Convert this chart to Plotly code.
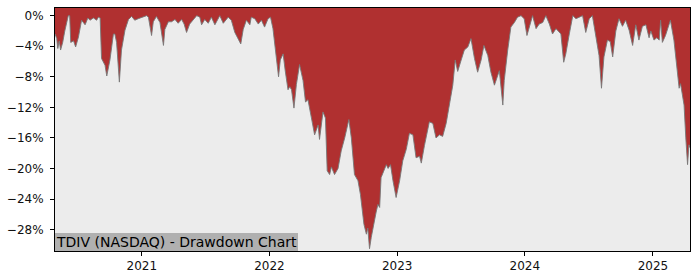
import plotly.graph_objects as go

dates = [
    "2020-04-28", "2020-05-03", "2020-05-06", "2020-05-10", "2020-05-14", "2020-05-20", "2020-05-26",
    "2020-06-01", "2020-06-05", "2020-06-09", "2020-06-12", "2020-06-20", "2020-06-26", "2020-07-04",
    "2020-07-13", "2020-07-23", "2020-07-31", "2020-08-06", "2020-08-16", "2020-08-25", "2020-08-30",
    "2020-09-04", "2020-09-08", "2020-09-18", "2020-09-23", "2020-10-02", "2020-10-12", "2020-10-16",
    "2020-10-21", "2020-10-29", "2020-11-04", "2020-11-14", "2020-11-24", "2020-12-03", "2020-12-12",
    "2020-12-22", "2021-01-01", "2021-01-15", "2021-01-20", "2021-01-29", "2021-02-03", "2021-02-12",
    "2021-02-22", "2021-03-04", "2021-03-08", "2021-03-18", "2021-03-27", "2021-04-06", "2021-04-15",
    "2021-04-25", "2021-05-02", "2021-05-09", "2021-05-18", "2021-05-28", "2021-06-07", "2021-06-16",
    "2021-06-21", "2021-06-30", "2021-07-10", "2021-07-19", "2021-07-29", "2021-08-12", "2021-08-22",
    "2021-09-05", "2021-09-14", "2021-09-24", "2021-10-05", "2021-10-11", "2021-10-18", "2021-10-27",
    "2021-11-06", "2021-11-10", "2021-11-20", "2021-11-30", "2021-12-09", "2021-12-18", "2021-12-28",
    "2022-01-04", "2022-01-11", "2022-01-21", "2022-01-27", "2022-02-01", "2022-02-09", "2022-02-15",
    "2022-02-23", "2022-02-28", "2022-03-05", "2022-03-12", "2022-03-19", "2022-03-28", "2022-04-07",
    "2022-04-14", "2022-04-21", "2022-05-01", "2022-05-10", "2022-05-20", "2022-05-24", "2022-06-03",
    "2022-06-10", "2022-06-15", "2022-06-22", "2022-06-27", "2022-07-06", "2022-07-16", "2022-07-25",
    "2022-08-04", "2022-08-16", "2022-08-23", "2022-09-01", "2022-09-11", "2022-09-18", "2022-09-28",
    "2022-10-05", "2022-10-09", "2022-10-14", "2022-10-19", "2022-10-24", "2022-11-02", "2022-11-07",
    "2022-11-12", "2022-11-16", "2022-11-24", "2022-12-01", "2022-12-06", "2022-12-13", "2022-12-20",
    "2022-12-29", "2023-01-08", "2023-01-17", "2023-01-27", "2023-02-05", "2023-02-15", "2023-02-24",
    "2023-03-06", "2023-03-11", "2023-03-20", "2023-03-30", "2023-04-03", "2023-04-13", "2023-04-22",
    "2023-05-02", "2023-05-11", "2023-05-21", "2023-05-30", "2023-06-09", "2023-06-16", "2023-06-23",
    "2023-07-03", "2023-07-12", "2023-07-22", "2023-07-31", "2023-08-10", "2023-08-19", "2023-08-29",
    "2023-09-06", "2023-09-17", "2023-09-26", "2023-10-06", "2023-10-11", "2023-10-20", "2023-10-30",
    "2023-11-03", "2023-11-13", "2023-11-22", "2023-12-02", "2023-12-11", "2023-12-21", "2023-12-30",
    "2024-01-07", "2024-01-14", "2024-01-23", "2024-02-02", "2024-02-11", "2024-02-21", "2024-03-01",
    "2024-03-11", "2024-03-20", "2024-03-30", "2024-04-13", "2024-04-21", "2024-04-27", "2024-05-07",
    "2024-05-17", "2024-05-26", "2024-06-04", "2024-06-14", "2024-06-23", "2024-07-03", "2024-07-12",
    "2024-07-22", "2024-07-31", "2024-08-07", "2024-08-14", "2024-08-24", "2024-09-01", "2024-09-08",
    "2024-09-17", "2024-09-26", "2024-10-06", "2024-10-15", "2024-10-25", "2024-11-04", "2024-11-13",
    "2024-11-22", "2024-12-02", "2024-12-12", "2024-12-21", "2024-12-26", "2025-01-04", "2025-01-12",
    "2025-01-19", "2025-01-23", "2025-01-28", "2025-02-06", "2025-02-13", "2025-02-20", "2025-03-02",
    "2025-03-10", "2025-03-17", "2025-03-21", "2025-03-26", "2025-03-31", "2025-04-05", "2025-04-10",
    "2025-04-14", "2025-04-17",
]

drawdown_pct = [
    -2.4, -3.0, -4.3, -3.3, -4.5, -3.5, -2.0,
    -0.8, 0.0, 0.0, -3.5, -3.3, -4.1, -2.8,
    -0.6, -1.2, -0.3, -0.6, -0.3, -0.6, -0.2,
    -0.3, -5.6, -6.5, -7.9, -5.8, -2.4, -2.4,
    -3.5, -8.7, -4.5, -1.9, -0.5, -0.1, -0.6,
    -0.4, -0.2, 0.0, -0.2, -2.6, -0.8, -0.1,
    -0.9, -3.9, -1.8, -0.8, -0.8, -0.5, -1.0,
    -0.5, -1.1, -2.2, -1.1, -0.6, 0.0, -0.2,
    -1.2, -0.5, -1.0, -0.2, -1.2, 0.0, -1.0,
    -0.2, -0.6, -2.2, -3.2, -3.7, -1.8, -0.6,
    -1.2, -0.2, -0.4, -1.1, -0.6, -1.5, -0.4,
    -0.2, -1.7, -5.4, -8.0, -5.8, -5.0, -7.2,
    -9.7, -9.3, -9.7, -12.1, -9.0, -6.4, -8.5,
    -11.3, -11.0, -13.4, -15.6, -14.3, -16.2, -12.6,
    -13.4, -20.3, -20.8, -19.8, -20.8, -20.0, -17.7,
    -16.0, -13.6, -16.0, -20.8, -21.6, -23.4, -27.3,
    -28.6, -27.8, -30.5, -29.0, -27.7, -25.7, -24.7,
    -25.1, -21.2, -20.3, -19.5, -20.0, -19.5, -21.6,
    -23.8, -21.6, -19.0, -17.5, -15.4, -15.6, -18.6,
    -18.4, -19.3, -17.0, -14.5, -13.9, -14.1, -16.0,
    -15.6, -15.8, -14.1, -11.7, -9.1, -5.8, -7.3,
    -5.8, -4.5, -4.1, -3.0, -5.6, -7.4, -5.8,
    -3.9, -5.2, -7.4, -9.1, -8.5, -7.2, -11.7,
    -8.5, -4.5, -1.5, -0.9, -0.2, 0.0, -0.4,
    -2.6, -1.5, 0.0, -1.7, -1.1, -0.9, 0.0,
    -1.1, -2.4, -1.7, -2.4, -6.1, -5.0, -2.4,
    0.0, -0.4, -0.2, 0.0, -2.2, -0.4, 0.0,
    -2.8, -5.2, -9.5, -5.4, -3.2, -3.4, -5.4,
    -2.0, -0.4, -1.4, -0.6, -1.9, -3.9, -1.2,
    -3.2, -1.4, -1.2, -2.9, -2.0, -3.2, -2.9,
    -3.2, -0.6, -3.5, -2.6, -1.7, -0.6, -3.2,
    -7.1, -9.5, -8.9, -10.2, -11.7, -16.0, -19.5,
    -16.9, -17.3,
]

y_tick_vals = [0, -4, -8, -12, -16, -20, -24, -28]
y_tick_text = ["0%", "−4%", "−8%", "−12%", "−16%", "−20%", "−24%", "−28%"]
x_tick_vals = ["2021-01-01", "2022-01-01", "2023-01-01", "2024-01-01", "2025-01-01"]
x_tick_text = ["2021", "2022", "2023", "2024", "2025"]

title_text = "TDIV (NASDAQ) - Drawdown Chart"

Y_TOP = 1.0
Y_BOTTOM = -30.8
FONT = "DejaVu Sans"
RED = "#b03030"

fig = go.Figure()
fig.add_trace(go.Scatter(
    x=dates, y=[Y_TOP] * len(dates), mode="lines",
    line=dict(width=0, color=RED), hoverinfo="skip", showlegend=False,
))
fig.add_trace(go.Scatter(
    x=dates, y=drawdown_pct, mode="lines", fill="tonexty", fillcolor=RED,
    line=dict(width=1, color="rgba(120,120,120,0.9)"), showlegend=False,
))

axis_common = dict(
    showline=True, linecolor="black", linewidth=1, mirror=True,
    ticks="outside", ticklen=4, tickcolor="black", tickwidth=1,
    showgrid=False, zeroline=False,
    tickfont=dict(family=FONT, size=12, color="#111"),
)

fig.update_layout(
    width=700, height=280,
    margin=dict(l=53, r=10, t=7, b=28),
    paper_bgcolor="white", plot_bgcolor="#ececec",
    font=dict(family=FONT, size=12, color="black"),
    xaxis=dict(
        type="date", range=[dates[0], dates[-1]],
        tickvals=x_tick_vals, ticktext=x_tick_text, **axis_common,
    ),
    yaxis=dict(
        range=[Y_BOTTOM, Y_TOP], ticklabelstandoff=4,
        tickvals=y_tick_vals, ticktext=y_tick_text, **axis_common,
    ),
    annotations=[dict(
        text=title_text, xref="paper", yref="paper", x=0, y=0,
        xanchor="left", yanchor="bottom", showarrow=False,
        font=dict(family=FONT, size=14, color="black"),
        bgcolor="#b0b0b0", borderpad=1, borderwidth=0,
    )],
)

fig.write_html("out.html")
